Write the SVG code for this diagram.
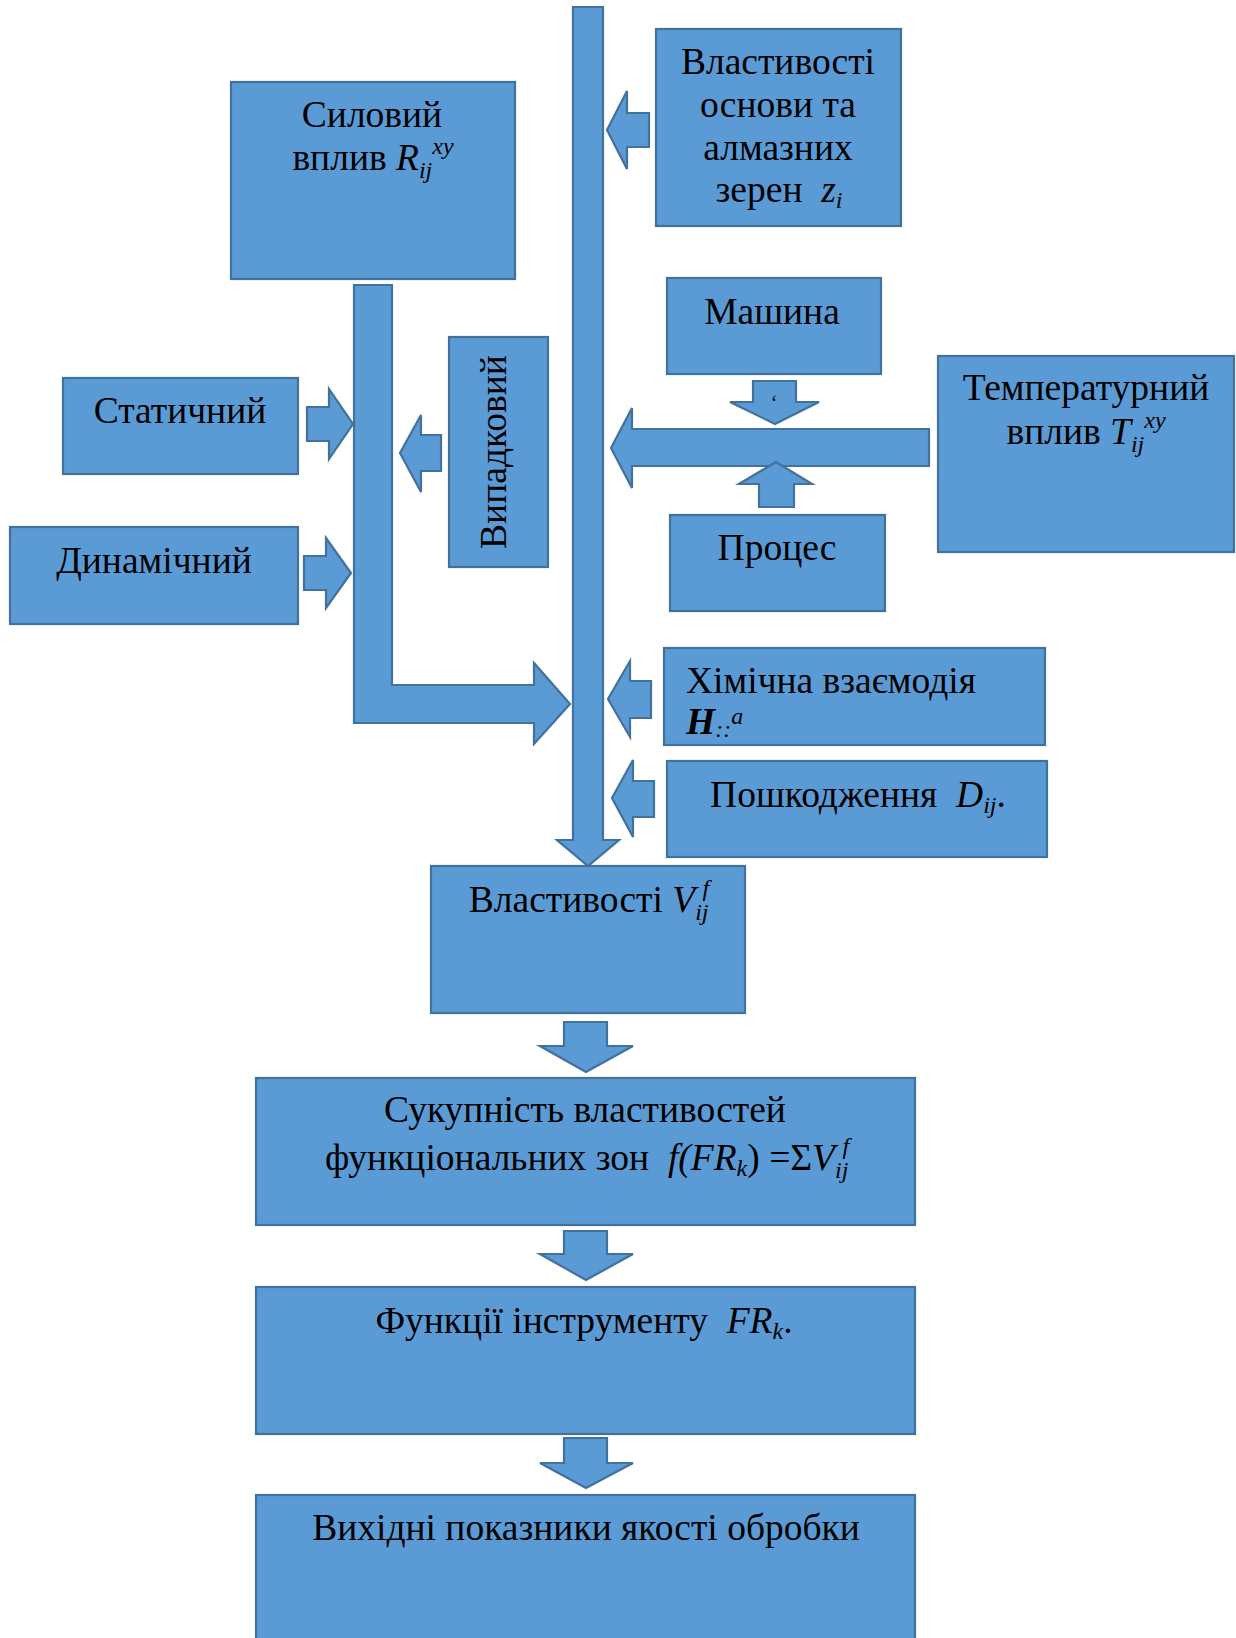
<svg xmlns="http://www.w3.org/2000/svg" width="1236" height="1638" viewBox="0 0 1236 1638">
  <style>
    .box { fill: #5b9bd5; stroke: #41719c; stroke-width: 2.2; }
    .arr { fill: #5b9bd5; stroke: #41719c; stroke-width: 2.2; stroke-linejoin: miter; }
    text { font-family: "Liberation Serif", "Times New Roman", serif; font-size: 37.5px; fill: #000; }
    .c { text-anchor: middle; }
    .i { font-style: italic; }
    .s { font-size: 24px; font-style: italic; }
  </style>
  <rect width="1236" height="1638" fill="#ffffff"/>

  <!-- block-arrow connectors -->
  <g id="connectors">
    <!-- main vertical trunk into Властивості V -->
    <polygon class="arr" points="573,7 603,7 603,840 619,840 588,866 557,840 573,840"/>
    <!-- L-shaped arrow from Силовий вплив into the trunk -->
    <polygon class="arr" points="354,285 392,285 392,685 534,685 534,663 570,704 534,744 534,723 354,723"/>
    <!-- Статичний -->
    <polygon class="arr" points="307,407 329,407 329,389 353,424 329,459 329,441 307,441"/>
    <!-- Динамічний -->
    <polygon class="arr" points="304,556 326,556 326,538 351,573 326,608 326,590 304,590"/>
    <!-- Випадковий -->
    <polygon class="arr" points="441,435 421,435 421,415 400,453 421,492 421,471 441,471"/>
    <!-- Властивості основи -->
    <polygon class="arr" points="649,113 627,113 627,91 607,130 627,169 627,147 649,147"/>
    <!-- Температурний вплив -->
    <polygon class="arr" points="929,429 632,429 632,408 611,448 632,488 632,466 929,466"/>
    <!-- Машина -->
    <polygon class="arr" points="753,381 796,381 796,402 819,402 775,424 730,402 753,402"/>
    <!-- Процес -->
    <polygon class="arr" points="759,507 794,507 794,484 812,484 776,462 739,484 759,484"/>
    <!-- Хімічна взаємодія -->
    <polygon class="arr" points="651,681 630,681 630,661 608,699 630,737 630,718 651,718"/>
    <!-- Пошкодження -->
    <polygon class="arr" points="654,781 633,781 633,760 612,798 633,837 633,817 654,817"/>
    <!-- lower chain -->
    <polygon class="arr" points="564,1022 607,1022 607,1046 633,1046 586,1072 540,1046 564,1046"/>
    <polygon class="arr" points="564,1231 607,1231 607,1254 633,1254 586,1280 540,1254 564,1254"/>
    <polygon class="arr" points="564,1438 607,1438 607,1463 633,1463 586,1488 540,1463 564,1463"/>
    <text x="774" y="410" class="c" style="font-size:20px">‘</text>
  </g>

  <g id="node-sylovyi">
    <rect class="box" x="231" y="82" width="284" height="197"/>
    <text x="372" y="127" class="c">Силовий</text>
    <text x="373" y="170" class="c">вплив <tspan class="i">R</tspan><tspan class="s" dy="8">ij</tspan><tspan class="s" dy="-24">xy</tspan></text>
  </g>

  <g id="node-osnova">
    <rect class="box" x="656" y="29" width="245" height="197"/>
    <text x="778" y="74" class="c">Властивості</text>
    <text x="778" y="117" class="c">основи та</text>
    <text x="778" y="160" class="c">алмазних</text>
    <text x="779" y="202" class="c">зерен&#160; <tspan class="i">z</tspan><tspan class="s" dy="6">i</tspan></text>
  </g>

  <g id="node-mashyna">
    <rect class="box" x="667" y="278" width="214" height="96"/>
    <text x="772" y="324" class="c">Машина</text>
  </g>

  <g id="node-temperatura">
    <rect class="box" x="938" y="356" width="296" height="196"/>
    <text x="1086" y="400" class="c">Температурний</text>
    <text x="1086" y="444" class="c">вплив <tspan class="i">T</tspan><tspan class="s" dy="8">ij</tspan><tspan class="s" dy="-24">xy</tspan></text>
  </g>

  <g id="node-protses">
    <rect class="box" x="670" y="515" width="215" height="96"/>
    <text x="777" y="560" class="c">Процес</text>
  </g>

  <g id="node-statychnyi">
    <rect class="box" x="63" y="378" width="235" height="96"/>
    <text x="180" y="423" class="c">Статичний</text>
  </g>

  <g id="node-dynamichnyi">
    <rect class="box" x="10" y="527" width="288" height="97"/>
    <text x="154" y="573" class="c">Динамічний</text>
  </g>

  <g id="node-vypadkovyi">
    <rect class="box" x="449" y="337" width="99" height="230"/>
    <text transform="translate(506,452) rotate(-90)" class="c">Випадковий</text>
  </g>

  <g id="node-khimichna">
    <rect class="box" x="664" y="648" width="381" height="97"/>
    <text x="686" y="693">Хімічна взаємодія</text>
    <text x="686" y="734"><tspan class="i" font-weight="bold">H</tspan><tspan class="s" dy="3">::</tspan><tspan class="s" dy="-13">a</tspan></text>
  </g>

  <g id="node-poshkodzhennia">
    <rect class="box" x="667" y="761" width="380" height="96"/>
    <text x="858" y="807" class="c">Пошкодження&#160; <tspan class="i">D</tspan><tspan class="s" dy="6">ij</tspan><tspan dy="-6">.</tspan></text>
  </g>

  <g id="node-vlastyvosti">
    <rect class="box" x="431" y="866" width="314" height="147"/>
    <text x="589" y="912" class="c">Властивості <tspan class="i">V</tspan><tspan class="s" dy="8">ij</tspan><tspan class="s" dx="-6" dy="-24">f</tspan></text>
  </g>

  <g id="node-sukupnist">
    <rect class="box" x="256" y="1078" width="659" height="147"/>
    <text x="585" y="1122" class="c">Сукупність властивостей</text>
    <text x="587" y="1170" class="c">функціональних зон&#160; <tspan class="i">f</tspan><tspan class="i">(FR</tspan><tspan class="s" dy="6">k</tspan><tspan dy="-6">) =Σ</tspan><tspan class="i">V</tspan><tspan class="s" dy="8">ij</tspan><tspan class="s" dx="-6" dy="-24">f</tspan></text>
  </g>

  <g id="node-funktsii">
    <rect class="box" x="256" y="1287" width="659" height="147"/>
    <text x="584" y="1333" class="c">Функції інструменту&#160; <tspan class="i">FR</tspan><tspan class="s" dy="6">k</tspan><tspan dy="-6">.</tspan></text>
  </g>

  <g id="node-vykhidni">
    <rect class="box" x="256" y="1495" width="659" height="160"/>
    <text x="586" y="1540" class="c">Вихідні показники якості обробки</text>
  </g>
</svg>
